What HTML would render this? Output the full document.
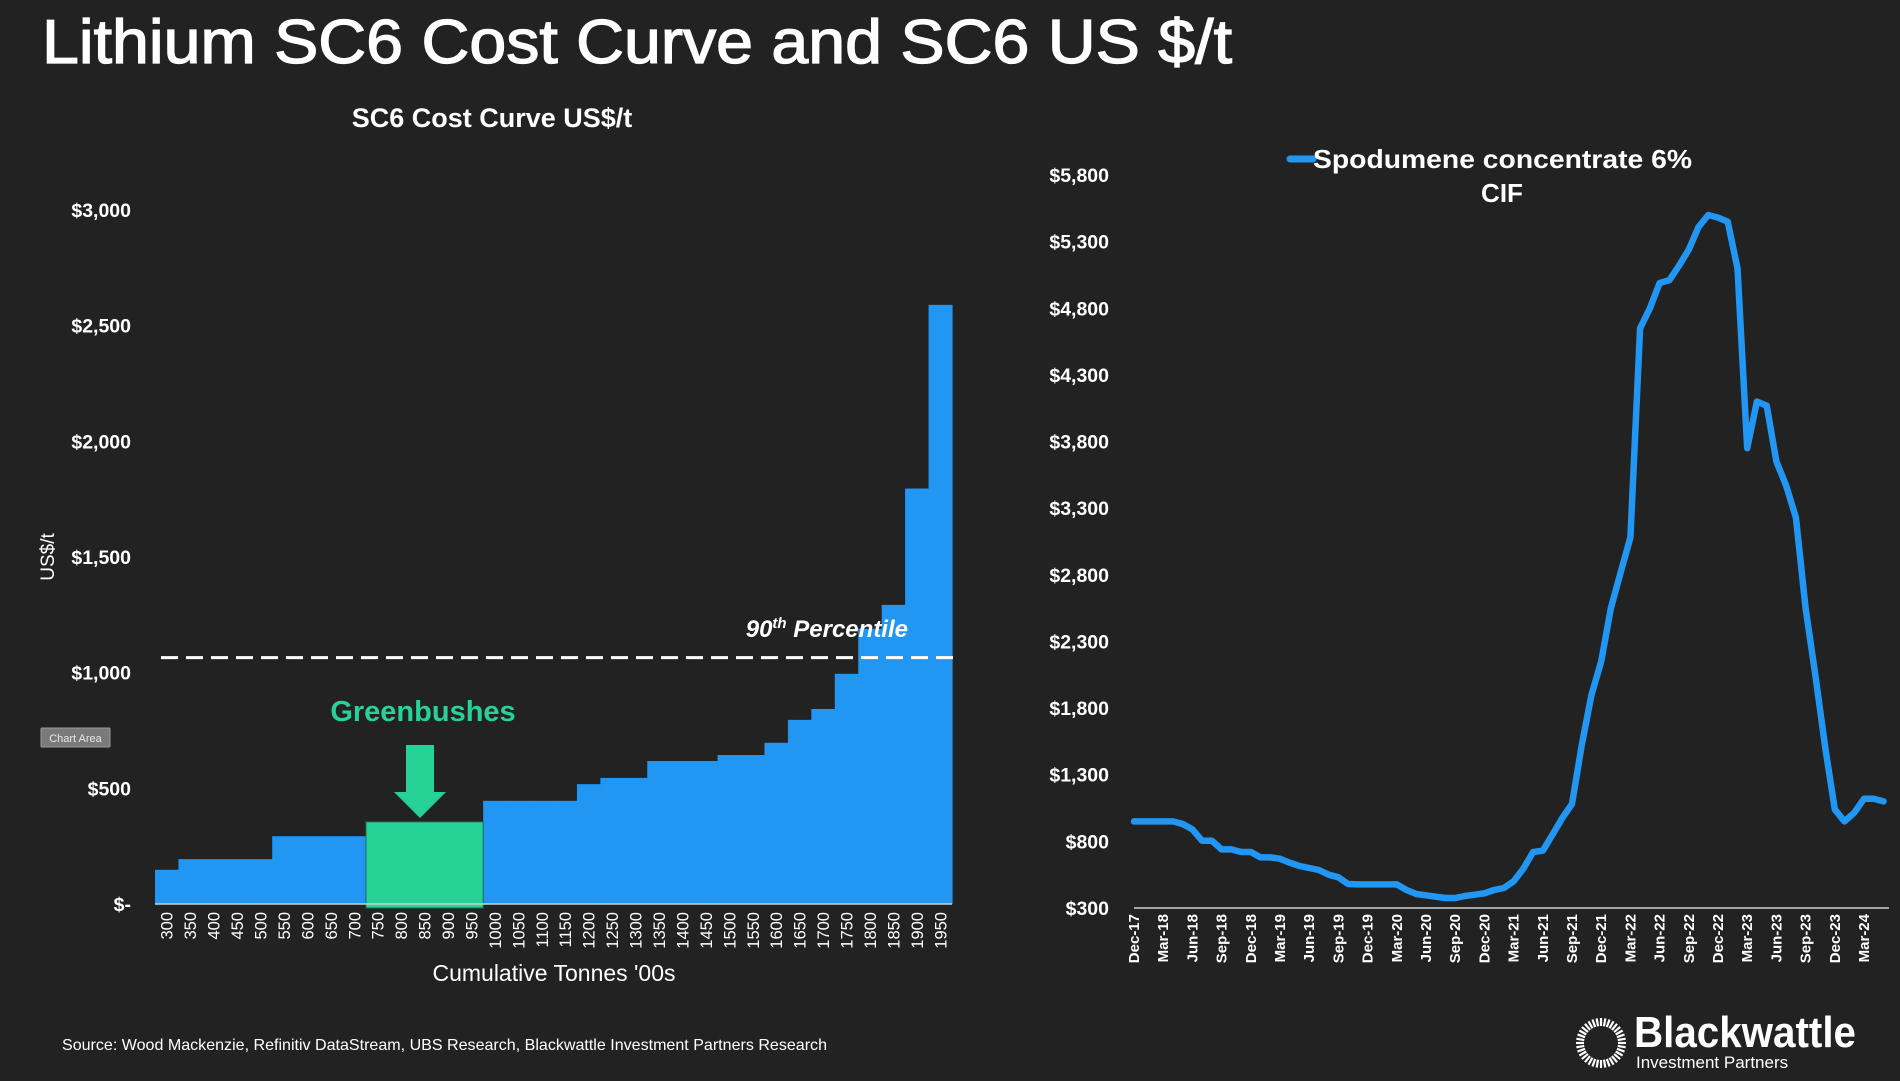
<!DOCTYPE html>
<html><head><meta charset="utf-8"><style>
html,body{margin:0;padding:0;background:#222222;}
svg{display:block;font-family:"Liberation Sans",Arial,sans-serif;}
</style></head><body>
<svg id="svg" width="1900" height="1081" viewBox="0 0 1900 1081" xmlns="http://www.w3.org/2000/svg">
<rect x="0" y="0" width="1900" height="1081" fill="#222222"/>
<text x="42" y="63" font-size="62" fill="#fff" stroke="#fff" stroke-width="1.3" textLength="1190" lengthAdjust="spacingAndGlyphs">Lithium SC6 Cost Curve and SC6 US $/t</text>
<text x="492" y="127" font-size="27" font-weight="bold" fill="#fff" text-anchor="middle">SC6 Cost Curve US$/t</text>
<g id="left"></g>
<g id="right"></g>
<text x="62" y="1050" font-size="16" fill="#fff" textLength="765" lengthAdjust="spacingAndGlyphs">Source: Wood Mackenzie, Refinitiv DataStream, UBS Research, Blackwattle Investment Partners Research</text>
<g id="logo">
<text x="1634" y="1047" font-size="44" font-weight="bold" fill="#fff" textLength="222" lengthAdjust="spacingAndGlyphs">Blackwattle</text>
<text x="1636" y="1068" font-size="17" fill="#fff">Investment Partners</text>
</g>
</svg>
<script>
// ---- Cost curve data ----
const costCategories = [300,350,400,450,500,550,600,650,700,750,800,850,900,950,1000,1050,1100,1150,1200,1250,1300,1350,1400,1450,1500,1550,1600,1650,1700,1750,1800,1850,1900,1950];
const costValues = [148,194,194,194,194,293,293,293,293,355,355,355,355,355,446,446,446,446,518,545,545,618,618,618,644,644,697,796,843,995,1190,1293,1796,2590];
const costHighlight = [750,800,850,900,950];
const costTicks = [0,500,1000,1500,2000,2500,3000];
const costTickLabels = ["$-","$500","$1,000","$1,500","$2,000","$2,500","$3,000"];
const percentile90 = 1065;

// ---- Price series data (monthly, Dec-17 .. May-24) ----
const priceValues = [950,950,950,950,950,930,890,805,805,740,740,720,720,680,680,670,640,615,600,585,550,530,480,477,477,477,477,477,435,405,395,385,375,375,390,400,410,435,450,500,595,720,730,850,975,1080,1520,1900,2150,2550,2820,3080,4650,4800,4990,5010,5120,5240,5410,5500,5480,5450,5100,3750,4100,4070,3650,3470,3230,2550,2050,1510,1040,950,1015,1120,1120,1100];
const priceTicks = [300,800,1300,1800,2300,2800,3300,3800,4300,4800,5300,5800];
const priceTickLabels = ["$300","$800","$1,300","$1,800","$2,300","$2,800","$3,300","$3,800","$4,300","$4,800","$5,300","$5,800"];
const quarterLabels = ["Dec-17","Mar-18","Jun-18","Sep-18","Dec-18","Mar-19","Jun-19","Sep-19","Dec-19","Mar-20","Jun-20","Sep-20","Dec-20","Mar-21","Jun-21","Sep-21","Dec-21","Mar-22","Jun-22","Sep-22","Dec-22","Mar-23","Jun-23","Sep-23","Dec-23","Mar-24"];

const NS="http://www.w3.org/2000/svg";
function mk(tag, attrs, parent, text){const e=document.createElementNS(NS,tag);for(const k in attrs)e.setAttribute(k,attrs[k]);if(text!==undefined)e.textContent=text;parent.appendChild(e);return e;}

// ---- Left chart ----
const L=document.getElementById('left');
const lx0=155,lx1=952,ly0=904,ly1=210;
const bw=(lx1-lx0)/costCategories.length;
const yL=v=>ly0-(v/3000)*(ly0-ly1);
const xL=i=>lx0+i*bw;
costTicks.forEach((t,i)=>{
  const e=mk('text',{x:131,y:yL(t)+7,'font-size':19.5,'font-weight':'bold',fill:'#fff','text-anchor':'end'},L,costTickLabels[i]);
  
  
});
costCategories.forEach((c,i)=>{
  const hl=costHighlight.includes(c);
  const r=mk('rect',{x:xL(i),y:yL(costValues[i]),width:bw+0.6,height:ly0-yL(costValues[i]),fill:hl?'#27d296':'#2196f3'},L);
  
  
  const cx=xL(i)+bw/2+6;
  const t=mk('text',{x:cx,y:912,'font-size':16.5,fill:'#fff','text-anchor':'end',transform:`rotate(-90 ${cx} 912)`},L,String(c));
  
  
});
const gHi=costHighlight.map(c=>costCategories.indexOf(c));
const gr=mk('rect',{x:xL(Math.min(...gHi)),y:yL(costValues[gHi[0]]),width:bw*gHi.length,height:ly0-yL(costValues[gHi[0]])+4,fill:'#27d296',stroke:'#1b6b55','stroke-width':1},L);


const ax=mk('line',{x1:lx0,y1:ly0,x2:lx1,y2:ly0,stroke:'#cfcfcf','stroke-width':1.5},L);


const dl=mk('line',{x1:161,y1:yL(percentile90),x2:953,y2:yL(percentile90),stroke:'#fff','stroke-width':3,'stroke-dasharray':'17 8'},L);


const pt=mk('text',{x:908,y:637,'font-size':24,'font-weight':'bold','font-style':'italic',fill:'#fff','text-anchor':'end'},L);


pt.innerHTML='90<tspan font-size="15" dy="-9">th</tspan><tspan dy="9"> Percentile</tspan>';
const gl=mk('text',{x:423,y:721,'font-size':29,'font-weight':'bold',fill:'#27d296','text-anchor':'middle'},L,'Greenbushes');


const ar=mk('polygon',{points:'406,745 434,745 434,792 446,792 420,818 394,792 406,792',fill:'#27d296'},L);


const yt=mk('text',{x:54,y:557,'font-size':19,fill:'#fff','text-anchor':'middle',transform:'rotate(-90 54 557)'},L,'US$/t');


const xt=mk('text',{x:554,y:981,'font-size':23,fill:'#fff','text-anchor':'middle'},L,"Cumulative Tonnes '00s");


const ca=mk('g',{},L);


mk('rect',{x:41,y:728,width:69,height:19,fill:'#7a7a7a',stroke:'#999',rx:1},ca);
mk('text',{x:75.5,y:742,'font-size':11,fill:'#e6e6e6','text-anchor':'middle'},ca,'Chart Area');

// ---- Right chart ----
const R=document.getElementById('right');
const rx0=1134,rx1=1889,ry0=908,ry1=175;
const monthW=(1864-1134)/75;
const yR=v=>ry0-(v-300)/5500*(ry0-ry1);
const xR=i=>rx0+i*monthW;
priceTicks.forEach((t,i)=>{
  const e=mk('text',{x:1109,y:yR(t)+7,'font-size':19.5,'font-weight':'bold',fill:'#fff','text-anchor':'end'},R,priceTickLabels[i]);
  
  
});
quarterLabels.forEach((q,i)=>{
  const cx=xR(i*3)+5;
  const e=mk('text',{x:cx,y:914,'font-size':15,'font-weight':'bold',fill:'#fff','text-anchor':'end',transform:`rotate(-90 ${cx} 914)`},R,q);
  
  
});
const rax=mk('line',{x1:rx0,y1:ry0,x2:rx1,y2:ry0,stroke:'#cfcfcf','stroke-width':1.5},R);


const pts=priceValues.map((v,i)=>`${xR(i).toFixed(1)},${yR(v).toFixed(1)}`).join(' ');
const pl=mk('polyline',{points:pts,fill:'none',stroke:'#2196f3','stroke-width':6.5,'stroke-linejoin':'round','stroke-linecap':'round'},R);


const lg=mk('g',{},R);


mk('line',{x1:1290,y1:159,x2:1313,y2:159,stroke:'#2196f3','stroke-width':7,'stroke-linecap':'round'},lg);
mk('text',{x:1313,y:168,'font-size':26,'font-weight':'bold',fill:'#fff',textLength:379,lengthAdjust:'spacingAndGlyphs'},lg,'Spodumene concentrate 6%');
mk('text',{x:1502,y:202,'font-size':26,'font-weight':'bold',fill:'#fff','text-anchor':'middle'},lg,'CIF');

// ---- Logo ring ----
const lgo=document.getElementById('logo');
const ring=mk('g',{},lgo);


for(let k=0;k<36;k++){const a=k/36*2*Math.PI;const c=Math.cos(a),s=Math.sin(a);
 mk('line',{x1:1601+17*c,y1:1043+17*s,x2:1601+25*c,y2:1043+25*s,stroke:'#fff','stroke-width':2.2},ring);}
</script>
</body></html>
